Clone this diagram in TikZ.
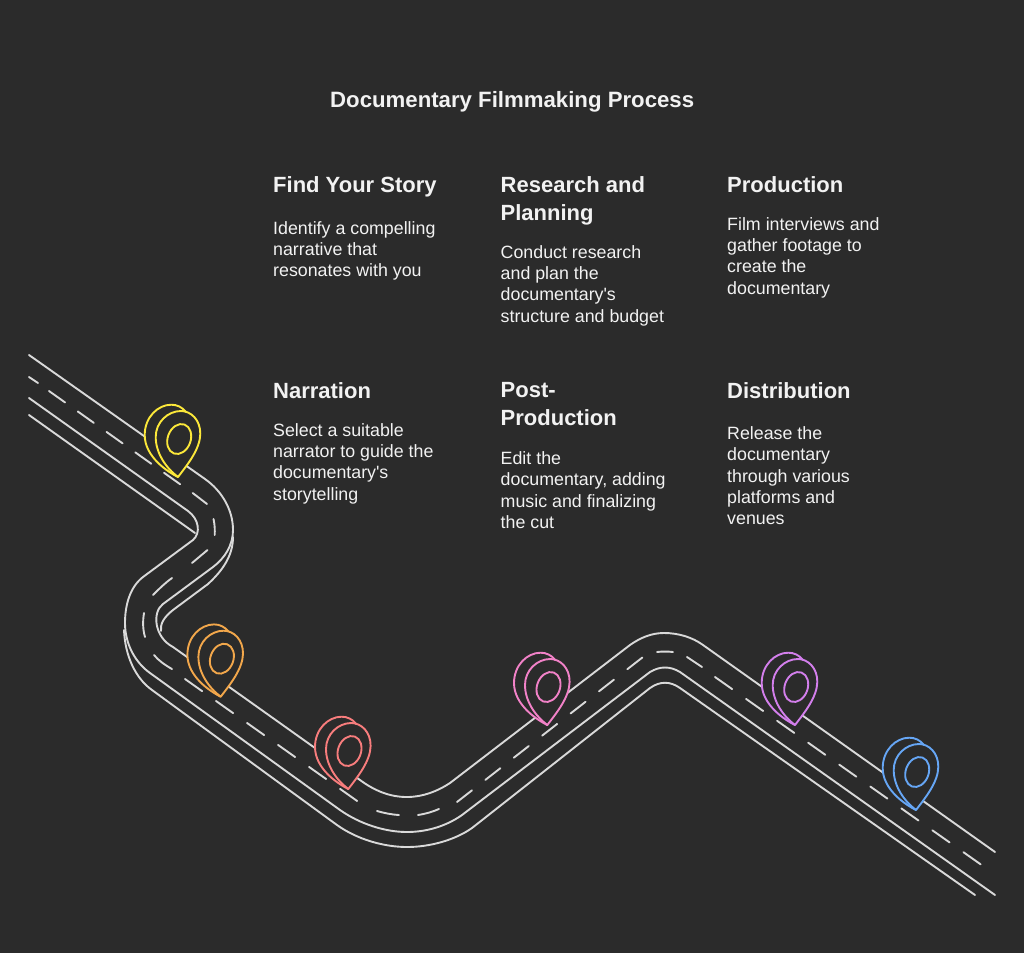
\documentclass[tikz,border=0pt]{standalone}
\usepackage{fontspec}
\setmainfont{Liberation Sans}
\definecolor{bgc}{HTML}{2B2B2B}
\definecolor{txt}{HTML}{F2F2F2}
\definecolor{road}{HTML}{D9D9D9}
\definecolor{pyellow}{HTML}{FCE83A}
\definecolor{porange}{HTML}{F2A74B}
\definecolor{pred}{HTML}{F87D7D}
\definecolor{ppink}{HTML}{F282C8}
\definecolor{ppurple}{HTML}{D37FEC}
\definecolor{pblue}{HTML}{66A6F5}
\tikzset{
  x=1pt,y=-1pt,
  roadline/.style={draw=road,line width=1.9pt,line cap=round,line join=round},
  dashA/.style={roadline,dash pattern=on 19.7pt off 15.6pt},
  dashB/.style={roadline,dash pattern=on 21pt off 17pt},
  dashC/.style={roadline,dash pattern=on 19pt off 17pt},
  titletext/.style={anchor=north west,inner sep=0pt,text=txt,font=\fontsize{22.2}{26}\selectfont\bfseries},
  headtext/.style={anchor=north west,inner sep=0pt,text=txt,align=left,font=\fontsize{22}{28}\selectfont\bfseries},
  bodytext/.style={anchor=north west,inner sep=0pt,text=txt,align=left,font=\fontsize{17.8}{21.3}\selectfont},
  pics/locpin/.style={code={
    \path[fill=bgc] (0,0) .. controls (-10,-5) and (-33.3,-20) .. (-33.3,-42) .. controls (-33.3,-60) and (-20,-72.3) .. (-6.7,-72.3) .. controls (-1,-72.3) and (4,-70) .. (8,-65) .. controls (17,-62) and (22.5,-54) .. (22.3,-43) .. controls (22,-28) and (10,-13) .. (0,0) -- cycle;
    \draw[#1,line width=1.9pt,line join=round] (0,0) .. controls (-10,-5) and (-33.3,-20) .. (-33.3,-42) .. controls (-33.3,-60) and (-20,-72.3) .. (-6.7,-72.3) .. controls (-1,-72.3) and (4,-70) .. (8,-65);
    \draw[#1,line width=1.9pt,line join=round] (0,0) .. controls (10,-13) and (22,-28) .. (22.3,-43) .. controls (22.5,-57) and (13,-66) .. (3,-66) .. controls (-10,-66) and (-22.3,-55) .. (-22.3,-40) .. controls (-22.3,-24) and (-12,-9) .. (0,0) -- cycle;
    \draw[#1,line width=1.9pt] (1.2,-38) ellipse [x radius=11.5, y radius=15.4, rotate=-20];
  }}
}
\begin{document}
\begin{tikzpicture}
\useasboundingbox[fill=bgc] (0,0) rectangle (1024,953);

% road edges
\draw[roadline] (29,355) -- (205,479) .. controls (222,491) and (233,510) .. (233,530) .. controls (233,545) and (225,558) .. (213,567) -- (163,604) .. controls (152,612) and (154,637) .. (173,647) -- (360,780) .. controls (375,791) and (390,797) .. (407,797) .. controls (423,797) and (438,791) .. (450,783) -- (630,645) .. controls (640,638) and (651,633) .. (664,633) .. controls (678,633) and (692,637) .. (703,645) -- (995,852);
\draw[roadline] (29,398) -- (188,511) .. controls (199,519) and (201,533) .. (193,540) -- (143,577) .. controls (130,587) and (125,605) .. (125,623) .. controls (125,645) and (136,663) .. (150,673) -- (340,810) .. controls (360,824) and (385,832) .. (407,832) .. controls (425,832) and (445,827) .. (462,815) -- (650,672) .. controls (660,666) and (670,666) .. (680,672) -- (995,895);
\draw[roadline] (29,415) -- (195,533);
\draw[roadline] (233,537) .. controls (233,557) and (221,572) .. (208,584) -- (173,610) .. controls (164,617) and (160,624) .. (161,631);
\draw[roadline] (124,630) .. controls (125,655) and (135,678) .. (152,690) -- (337,825) .. controls (358,840) and (385,847) .. (407,847) .. controls (430,847) and (455,840) .. (472,828) -- (650,688) .. controls (660,681) and (670,681) .. (680,688) -- (975,895);

% centre line
\draw[roadline] (29,377) -- (38,383);
\draw[dashA] (49,391) -- (180.5,484.5);
\draw[roadline] (192.7,493) -- (207,504);
\draw[roadline] (213.5,519) .. controls (214.7,524) and (215,530) .. (214.7,535);
\draw[roadline] (207.5,550) -- (192,563);
\draw[roadline] (172,578) .. controls (165,583) and (159,589) .. (153,595);
\draw[roadline] (144,613) .. controls (142.7,621) and (142.7,629) .. (145,637);
\draw[roadline] (154,655) .. controls (159,661) and (165,665) .. (172,669);
\draw[dashB] (185,679) -- (360,803);
\draw[roadline] (377,811) .. controls (384,813) and (391,814.5) .. (399,815);
\draw[roadline] (418,815) .. controls (425,814) and (432,812) .. (439,809);
\draw[dashC] (457,802) -- (643,657);
\draw[roadline] (657,652) .. controls (662,651.4) and (668,651.4) .. (673,652);
\draw[roadline] (687,657) -- (702,667);
\draw[dashB] (715,677) -- (983,866);

% pins
\pic at (178,477) {locpin=pyellow};
\pic at (220.7,696.7) {locpin=porange};
\pic at (348.3,789) {locpin=pred};
\pic at (547.3,725) {locpin=ppink};
\pic at (795,725) {locpin=ppurple};
\pic at (916,810) {locpin=pblue};

% text
\node[titletext] (title) at (330,91) {Documentary Filmmaking Process};
\node[headtext] (h1) at (273,176.5) {Find Your Story};
\node[bodytext] (b1) at (273,221) {Identify a compelling\\narrative that\\resonates with you};
\node[headtext] (h2) at (500.5,176.5) {Research and\\Planning};
\node[bodytext] (b2) at (500.5,245) {Conduct research\\and plan the\\documentary\textquotesingle s\\structure and budget};
\node[headtext] (h3) at (727,176.5) {Production};
\node[bodytext] (b3) at (727,217) {Film interviews and\\gather footage to\\create the\\documentary};
\node[headtext] (h4) at (273,382.5) {Narration};
\node[bodytext] (b4) at (273,423) {Select a suitable\\narrator to guide the\\documentary\textquotesingle s\\storytelling};
\node[headtext] (h5) at (500.5,382.5) {Post-\\Production};
\node[bodytext] (b5) at (500.5,451.5) {Edit the\\documentary, adding\\music and finalizing\\the cut};
\node[headtext] (h6) at (727,382.5) {Distribution};
\node[bodytext] (b6) at (727,426.5) {Release the\\documentary\\through various\\platforms and\\venues};
\end{tikzpicture}
\end{document}
